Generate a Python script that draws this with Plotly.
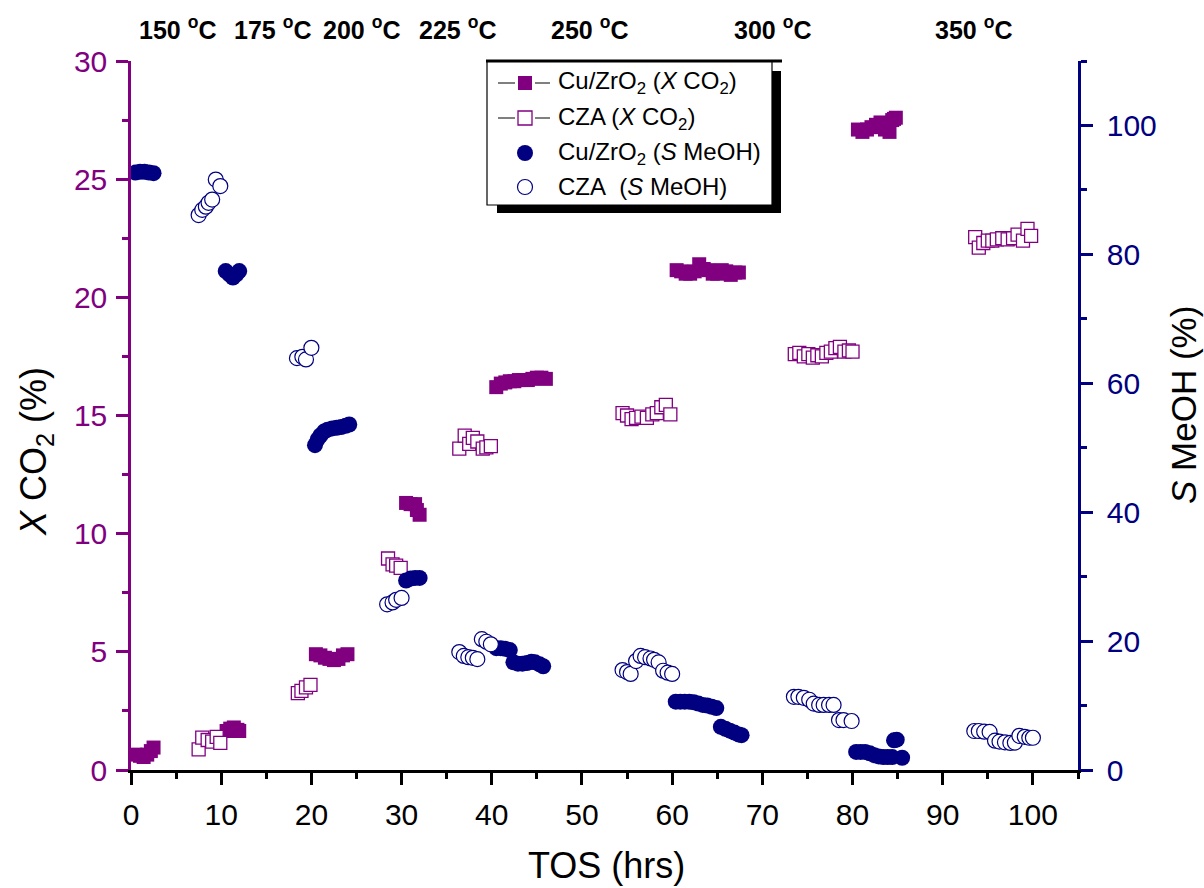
import plotly.graph_objects as go

# ---- data: time on stream (h) and measured values ----
# Cu/ZrO2, CO2 conversion (%)
cu_x_tos = [0.5, 1.0, 1.4, 1.8, 2.2, 2.5,
            10.6, 11.0, 11.4, 11.8, 12.0,
            20.5, 21.0, 21.5, 22.0, 22.5, 23.0, 23.5, 24.0,
            30.5, 31.0, 31.5, 31.7, 32.0,
            40.5, 41.0, 41.5, 42.0, 42.5, 43.0, 43.5, 44.0, 44.5, 45.0, 45.5, 46.0,
            60.5, 61.0, 61.5, 62.0, 62.5, 63.0, 63.5, 64.0, 64.5, 65.0, 65.5, 66.0, 66.5, 67.0, 67.4,
            80.6, 81.1, 81.6, 82.1, 82.6, 83.1, 83.6, 84.1, 84.4, 84.6, 84.8]
cu_x_val = [0.65, 0.6, 0.55, 0.65, 0.8, 0.95,
            1.65, 1.75, 1.8, 1.7, 1.65,
            4.9, 4.85, 4.75, 4.7, 4.65, 4.7, 4.85, 4.9,
            11.3, 11.25, 11.25, 11.0, 10.8,
            16.2, 16.35, 16.4, 16.45, 16.45, 16.5, 16.5, 16.5, 16.55, 16.6, 16.6, 16.55,
            21.15, 21.1, 21.0, 21.0, 21.1, 21.4, 21.2, 21.15, 21.0, 21.0, 21.15, 21.1, 20.95, 21.05, 21.05,
            27.1, 27.0, 27.1, 27.2, 27.3, 27.4, 27.1, 27.0, 27.5, 27.55, 27.6]

# CZA, CO2 conversion (%)
cza_x_tos = [7.5, 7.9, 8.5, 9.0, 9.5, 9.9,
             18.5, 18.9, 19.4, 19.9,
             28.5, 29.0, 29.4, 29.9,
             36.4, 37.0, 37.5, 37.9, 38.4, 39.0, 39.4, 39.9,
             54.5, 55.0, 55.5, 56.0, 56.6, 57.2, 57.8, 58.3, 58.8, 59.3, 59.8,
             73.6, 74.1, 74.6, 75.1, 75.6, 76.1, 76.6, 77.1, 77.6, 78.1, 78.6, 79.1, 79.6, 80.0,
             93.6, 94.0, 94.5, 95.0, 95.5, 96.0, 96.6, 97.2, 97.8, 98.3, 98.9, 99.4, 99.8]
cza_x_val = [0.87, 1.37, 1.27, 1.2, 1.4, 1.15,
             3.25, 3.35, 3.5, 3.6,
             8.95, 8.7, 8.65, 8.55,
             13.6, 14.15, 13.8, 14.05, 13.9, 13.6, 13.65, 13.7,
             15.1, 15.0, 14.85, 14.9, 14.95, 14.9, 15.05, 15.1, 15.35, 15.45, 15.05,
             17.6, 17.65, 17.5, 17.6, 17.45, 17.55, 17.5, 17.65, 17.7, 17.85, 17.9, 17.7, 17.75, 17.7,
             22.55, 22.1, 22.3, 22.4, 22.4, 22.45, 22.5, 22.45, 22.5, 22.65, 22.4, 22.9, 22.6]

# Cu/ZrO2, methanol selectivity (%)
cu_s_tos = [0.5, 1.0, 1.5, 2.0, 2.5,
            10.5, 10.9, 11.3, 11.7, 12.0,
            20.4, 20.7, 21.0, 21.4, 21.8, 22.3, 22.8, 23.3, 23.8, 24.2,
            30.5, 31.0, 31.5, 32.0,
            40.5, 41.0, 41.5, 42.0, 42.4, 42.9, 43.4, 43.9, 44.4, 44.8, 45.3, 45.7,
            60.4, 60.9, 61.4, 61.9, 62.4, 62.9, 63.4, 63.9, 64.4, 64.9,
            65.4, 65.9, 66.4, 66.9, 67.4, 67.7,
            80.4, 80.9, 81.4, 81.9, 82.4, 82.9, 83.4, 83.9, 84.4, 84.6, 84.9, 85.5]
cu_s_val = [92.7, 92.8, 92.8, 92.7, 92.6,
            77.4, 76.9, 76.4, 76.9, 77.4,
            50.4, 51.3, 51.9, 52.5, 52.8, 53.0, 53.1, 53.2, 53.4, 53.6,
            29.4, 29.7, 29.8, 29.8,
            18.9, 18.9, 18.8, 18.6, 16.7, 16.5, 16.5, 16.6, 16.8, 16.7, 16.4, 16.1,
            10.6, 10.6, 10.6, 10.6, 10.5, 10.3, 10.1, 10.0, 9.8, 9.6,
            6.7, 6.4, 6.1, 5.8, 5.5, 5.4,
            2.8, 2.8, 2.8, 2.6, 2.3, 2.1, 2.0, 2.0, 2.0, 4.6, 4.7, 1.9]

# CZA, methanol selectivity (%)
cza_s_tos = [7.5, 7.9, 8.3, 8.6, 9.0, 9.4, 9.9,
             18.4, 19.0, 19.4, 20.0,
             28.4, 29.0, 29.4, 30.0,
             36.4, 36.9, 37.4, 37.9, 38.4, 38.9, 39.4, 39.9,
             54.5, 55.0, 55.4, 56.0, 56.5, 57.0, 57.6, 58.0, 58.5, 59.0, 59.5, 60.0,
             73.5, 74.0, 74.6, 75.2, 75.7, 76.3, 76.8, 77.4, 77.9, 78.5, 79.0, 79.9,
             93.5, 94.0, 94.6, 95.2, 95.8, 96.3, 96.9, 97.5, 98.0, 98.5, 99.1, 99.6, 100.0]
cza_s_val = [86.1, 86.9, 87.4, 88.0, 88.5, 91.6, 90.6,
             63.9, 64.1, 63.7, 65.5,
             25.7, 26.0, 26.4, 26.7,
             18.3, 17.7, 17.5, 17.4, 17.2, 20.3, 19.9, 19.5,
             15.5, 15.2, 14.9, 16.9, 17.7, 17.5, 17.3, 17.1, 16.7, 15.4, 15.1, 14.9,
             11.35, 11.35, 11.2, 10.9, 10.3, 10.1, 10.1, 10.1, 10.1, 7.75, 7.75, 7.6,
             6.05, 6.05, 5.95, 5.9, 4.55, 4.4, 4.3, 4.2, 4.25, 5.3, 5.15, 5.0, 5.0]

# reaction temperature of each stage, placed above the time axis
temp_labels = ["150", "175", "200", "225", "250", "300", "350"]
temp_label_px = [177, 272, 361, 457, 589, 772, 973]

legend_names = ["Cu/ZrO<sub>2</sub> (<i>X</i> CO<sub>2</sub>)",
                "CZA (<i>X</i> CO<sub>2</sub>)",
                "Cu/ZrO<sub>2</sub> (<i>S</i> MeOH)",
                "CZA\u00a0 (<i>S</i> MeOH)"]

PURPLE = "#800080"
NAVY = "#000080"
FONT = "Liberation Sans, Arial, sans-serif"

# plot-area geometry in pixels
L, T, W, H = 131, 61, 947, 709
FIG_W, FIG_H = 1204, 888


def px(x):
    return (x - L) / W


def py(y):
    return (T + H - y) / H


fig = go.Figure()

fig.add_trace(go.Scatter(
    x=cu_x_tos, y=cu_x_val, mode="markers", name=legend_names[0],
    marker=dict(symbol="square", size=14, color=PURPLE, line=dict(width=0)),
    yaxis="y"))
fig.add_trace(go.Scatter(
    x=cza_x_tos, y=cza_x_val, mode="markers", name=legend_names[1],
    marker=dict(symbol="square", size=13, color="white",
                line=dict(width=1.3, color=PURPLE)),
    yaxis="y"))
fig.add_trace(go.Scatter(
    x=cu_s_tos, y=cu_s_val, mode="markers", name=legend_names[2],
    marker=dict(symbol="circle", size=16, color=NAVY, line=dict(width=0)),
    yaxis="y2"))
fig.add_trace(go.Scatter(
    x=cza_s_tos, y=cza_s_val, mode="markers", name=legend_names[3],
    marker=dict(symbol="circle", size=15, color="white",
                line=dict(width=1.2, color=NAVY)),
    yaxis="y2"))

# ---- hand-drawn legend box with drop shadow ----
shapes = [
    dict(type="rect", xref="paper", yref="paper",
         x0=px(497), x1=px(781), y0=py(213), y1=py(71),
         fillcolor="black", line=dict(width=0), layer="above"),
    dict(type="rect", xref="paper", yref="paper",
         x0=px(487), x1=px(772), y0=py(205), y1=py(61),
         fillcolor="white", line=dict(width=1.2, color="black"), layer="above"),
    dict(type="line", xref="paper", yref="paper",
         x0=px(486), x1=px(782), y0=py(61), y1=py(61),
         line=dict(width=3, color="black"), layer="above"),
]
row_y = [83, 118, 153, 187]
for ry in row_y[:2]:
    for xa, xb in ((498, 515), (535, 550)):
        shapes.append(dict(type="line", xref="paper", yref="paper",
                           x0=px(xa), x1=px(xb), y0=py(ry), y1=py(ry),
                           line=dict(width=1, color="black"), layer="above"))
shapes.append(dict(type="rect", xref="paper", yref="paper",
                   x0=px(518), x1=px(532), y0=py(row_y[0] + 7), y1=py(row_y[0] - 7),
                   fillcolor=PURPLE, line=dict(width=0), layer="above"))
shapes.append(dict(type="rect", xref="paper", yref="paper",
                   x0=px(518), x1=px(532), y0=py(row_y[1] + 7), y1=py(row_y[1] - 7),
                   fillcolor="white", line=dict(width=1.3, color=PURPLE), layer="above"))
shapes.append(dict(type="circle", xref="paper", yref="paper",
                   x0=px(517), x1=px(533), y0=py(row_y[2] + 8), y1=py(row_y[2] - 8),
                   fillcolor=NAVY, line=dict(width=0), layer="above"))
shapes.append(dict(type="circle", xref="paper", yref="paper",
                   x0=px(517.5), x1=px(532.5), y0=py(row_y[3] + 7.5), y1=py(row_y[3] - 7.5),
                   fillcolor="white", line=dict(width=1.2, color=NAVY), layer="above"))

annotations = []
for name, ry in zip(legend_names, row_y):
    annotations.append(dict(
        text=name, xref="paper", yref="paper", x=px(556), y=py(ry),
        xanchor="left", yanchor="middle", showarrow=False,
        font=dict(family=FONT, size=24, color="black")))

# temperature stage labels
for lab, xpos in zip(temp_labels, temp_label_px):
    annotations.append(dict(
        text="<b>" + lab + " <sup>o</sup>C</b>", xref="paper", yref="paper",
        x=px(xpos), y=py(28), xanchor="center", yanchor="middle", showarrow=False,
        font=dict(family=FONT, size=25, color="black")))

# axis titles
annotations.append(dict(
    text="TOS (hrs)", xref="paper", yref="paper", x=px(606), y=py(865),
    xanchor="center", yanchor="middle", showarrow=False,
    font=dict(family=FONT, size=36, color="black")))
annotations.append(dict(
    text="<i>X</i> CO<sub>2</sub> (%)", xref="paper", yref="paper",
    x=px(36), y=py(452), xanchor="center", yanchor="middle", showarrow=False,
    textangle=-90, font=dict(family=FONT, size=36, color="black")))
annotations.append(dict(
    text="<i>S</i> MeOH (%)", xref="paper", yref="paper",
    x=px(1183), y=py(405), xanchor="center", yanchor="middle", showarrow=False,
    textangle=-90, font=dict(family=FONT, size=35, color="black")))

fig.update_layout(
    width=FIG_W, height=FIG_H,
    margin=dict(l=L, r=FIG_W - L - W, t=T, b=FIG_H - T - H, pad=0),
    paper_bgcolor="white", plot_bgcolor="white",
    showlegend=False,
    font=dict(family=FONT),
    xaxis=dict(
        range=[0, 105], tickmode="array", tickvals=list(range(0, 101, 10)),
        ticks="outside", ticklen=12, tickwidth=2.5, tickcolor="black",
        showline=True, linecolor="black", linewidth=2.5,
        showgrid=False, zeroline=False, ticklabelstandoff=4,
        tickfont=dict(family=FONT, size=30, color="black"),
        minor=dict(dtick=5, tick0=0, ticks="outside", ticklen=6,
                   tickwidth=2.5, tickcolor="black", showgrid=False),
    ),
    yaxis=dict(
        range=[0, 30], tickmode="linear", tick0=0, dtick=5,
        ticks="outside", ticklen=12, tickwidth=2.5, tickcolor=PURPLE,
        showline=True, linecolor=PURPLE, linewidth=2.5,
        showgrid=False, zeroline=False, ticklabelstandoff=3,
        tickfont=dict(family=FONT, size=30, color=PURPLE),
        minor=dict(dtick=2.5, tick0=0, ticks="outside", ticklen=6,
                   tickwidth=2.5, tickcolor=PURPLE, showgrid=False),
    ),
    yaxis2=dict(
        range=[0, 110], overlaying="y", side="right",
        tickmode="array", tickvals=list(range(0, 101, 20)),
        ticks="outside", ticklen=12, tickwidth=2.5, tickcolor=NAVY,
        showline=True, linecolor=NAVY, linewidth=2.5,
        showgrid=False, zeroline=False, ticklabelstandoff=8,
        tickfont=dict(family=FONT, size=30, color=NAVY),
        minor=dict(dtick=10, tick0=0, ticks="outside", ticklen=6,
                   tickwidth=2.5, tickcolor=NAVY, showgrid=False),
    ),
    shapes=shapes,
    annotations=annotations,
)

fig.write_html("out.html")
